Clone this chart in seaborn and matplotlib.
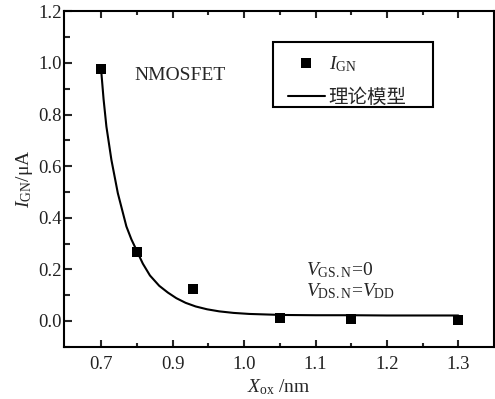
import matplotlib
matplotlib.use("Agg")
import matplotlib.pyplot as plt
from matplotlib.lines import Line2D
from matplotlib.patches import Rectangle
from matplotlib.ticker import FixedLocator, FixedFormatter
import numpy as np
import pandas as pd
import seaborn as sns

# Measured gate leakage current of the NMOSFET vs. oxide thickness
x_meas = [0.80, 0.85, 0.929, 1.05, 1.15, 1.30]
i_meas = [0.977, 0.266, 0.124, 0.013, 0.007, 0.004]

# Theoretical model curve
x_model = [0.800, 0.803, 0.807, 0.814, 0.823, 0.835, 0.842, 0.849, 0.858,
           0.868, 0.881, 0.893, 0.905, 0.918, 0.932, 0.948, 0.965, 0.985,
           1.007, 1.030, 1.053, 1.100, 1.150, 1.200, 1.250, 1.300]
i_model = [0.960, 0.860, 0.753, 0.624, 0.495, 0.366, 0.316, 0.275, 0.222,
           0.176, 0.136, 0.110, 0.088, 0.070, 0.056, 0.045, 0.037, 0.031,
           0.027, 0.025, 0.023, 0.022, 0.022, 0.021, 0.021, 0.021]

# Axis ticks
x_ticks = [0.8, 0.9, 1.0, 1.1, 1.2, 1.3]
x_tick_labels = ["0.7", "0.9", "1.0", "1.1", "1.2", "1.3"]
x_minor = [0.85, 0.95, 1.05, 1.15, 1.25]
y_ticks = [0.0, 0.2, 0.4, 0.6, 0.8, 1.0, 1.2]
y_minor = [-0.1, 0.1, 0.3, 0.5, 0.7, 0.9, 1.1]

sns.set_theme(style="ticks")
plt.rcParams["font.family"] = ["Liberation Serif", "Noto Sans CJK SC"]
plt.rcParams["mathtext.fontset"] = "custom"
plt.rcParams["mathtext.rm"] = "Liberation Serif"
plt.rcParams["mathtext.it"] = "Liberation Serif:italic"
plt.rcParams["axes.linewidth"] = 1.5

fig = plt.figure(figsize=(4.95, 3.99), dpi=100)
ax = fig.add_axes([64.3 / 495, 1 - 346.7 / 399, (494 - 64.3) / 495, (346.7 - 11.3) / 399])

df_meas = pd.DataFrame({"x": x_meas, "i": i_meas})
df_model = pd.DataFrame({"x": x_model, "i": i_model})

sns.lineplot(data=df_model, x="x", y="i", ax=ax, color="black", lw=1.5,
             sort=False, estimator=None)
sns.scatterplot(data=df_meas, x="x", y="i", ax=ax, marker="s", s=62,
                color="black", edgecolor="black", linewidth=0, zorder=3)

ax.set_xlim(0.748, 1.350)
ax.set_ylim(-0.1, 1.2)

ax.xaxis.set_major_locator(FixedLocator(x_ticks))
ax.xaxis.set_major_formatter(FixedFormatter(x_tick_labels))
ax.xaxis.set_minor_locator(FixedLocator(x_minor))
ax.yaxis.set_major_locator(FixedLocator(y_ticks))
ax.yaxis.set_major_formatter(FixedFormatter([f"{v:.1f}" for v in y_ticks]))
ax.yaxis.set_minor_locator(FixedLocator(y_minor))

ax.tick_params(axis="x", which="both", direction="in", top=True, bottom=True,
               width=1.5, labelsize=13.5, pad=7)
ax.tick_params(axis="x", which="major", length=5)
ax.tick_params(axis="x", which="minor", length=3)
ax.tick_params(axis="y", which="both", direction="in", left=True, right=False,
               width=1.5, labelsize=13.5, pad=2)
ax.tick_params(axis="y", which="major", length=6)
ax.tick_params(axis="y", which="minor", length=4)
for lbl in ax.get_xticklabels() + ax.get_yticklabels():
    lbl.set_color("#222222")

for side in ["left", "right", "top", "bottom"]:
    ax.spines[side].set_visible(True)
    ax.spines[side].set_color("black")
    ax.spines[side].set_linewidth(1.5)

ax.set_xlabel(r"$X_{\mathrm{ox}}$ /nm", fontsize=14, labelpad=3)
ax.set_ylabel(r"$I_{\mathrm{GN}}$/μA", fontsize=14, labelpad=2)

ax.text(0.8465, 0.934, "NMOSFET", fontsize=14, ha="left", va="baseline")
ax.text(1.0867, 0.176, r"$V_{\mathrm{GS.N}}$=0", fontsize=14, ha="left", va="baseline")
ax.text(1.0867, 0.097, r"$V_{\mathrm{DS.N}}$=$V_{\mathrm{DD}}$", fontsize=14,
        ha="left", va="baseline")

# Legend entries, with a separately drawn box around them
handles = [
    Line2D([], [], marker="s", color="black", ls="none", markersize=7.5, markeredgewidth=0),
    Line2D([], [], color="black", lw=1.5),
]
leg = ax.legend(handles, [r"$I_{\mathrm{GN}}$", "理论模型"], loc="upper left",
                bbox_to_anchor=(0.5206, 0.871), borderaxespad=0, fontsize=14,
                frameon=False, handlelength=1.9, handletextpad=0.2,
                borderpad=0, labelspacing=0.65)
leg.get_texts()[1].set_fontfamily(["Noto Sans CJK SC"])
ax.add_patch(Rectangle((0.4857, 0.7147), 0.858 - 0.4857, 0.9085 - 0.7147,
                       transform=ax.transAxes, fill=False, edgecolor="black",
                       linewidth=1.5, zorder=4))

fig.savefig("out.png", dpi=100)
